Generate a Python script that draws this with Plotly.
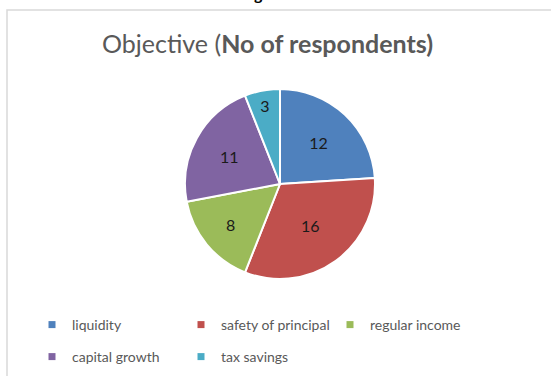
import plotly.graph_objects as go

labels = ["liquidity", "safety of principal", "regular income", "capital growth", "tax savings"]
values = [12, 16, 8, 11, 3]
colors = ["#4F81BD", "#C0504D", "#9BBB59", "#8064A2", "#4BACC6"]
row_of = [1, 1, 1, 2, 2]

W, H = 551, 376

def px(x):
    return x / W

def py(y):
    return 1 - y / H

fig = go.Figure()
fig.add_trace(go.Pie(
    labels=labels, values=values, sort=False, direction="clockwise", rotation=0,
    marker=dict(colors=colors, line=dict(color="white", width=2)),
    textinfo="value", textposition="inside", insidetextorientation="horizontal",
    textfont=dict(family="Lato", size=16, color="#1a1a1a"),
    domain=dict(x=[px(185), px(375)], y=[py(279), py(89)]),
    showlegend=False, hoverinfo="label+value",
))
for lab, col, row in zip(labels, colors, row_of):
    fig.add_trace(go.Scatter(
        x=[None], y=[None], mode="markers", name=lab,
        legend="legend" if row == 1 else "legend2",
        marker=dict(symbol="square", size=7, color=col),
    ))

leg_common = dict(
    orientation="h", xanchor="left", yanchor="middle",
    entrywidth=104, entrywidthmode="pixels",
    font=dict(family="Lato", size=14, color="#595959"),
    itemsizing="trace", bgcolor="rgba(0,0,0,0)",
)

fig.update_layout(
    width=W, height=H, margin=dict(l=0, r=0, t=0, b=0),
    paper_bgcolor="white", plot_bgcolor="white",
    xaxis=dict(visible=False), yaxis=dict(visible=False),
    legend=dict(x=px(32), y=py(325), **leg_common),
    legend2=dict(x=px(32), y=py(357), **leg_common),
    shapes=[dict(type="rect", xref="paper", yref="paper",
                 x0=px(7), x1=px(600), y0=py(420), y1=py(10),
                 line=dict(color="#D9D9D9", width=1.5), fillcolor="rgba(0,0,0,0)")],
    annotations=[
        dict(text="Objective (<b>No of respondents)</b>", x=px(267), y=py(43),
             xref="paper", yref="paper", xanchor="center", yanchor="middle",
             showarrow=False, font=dict(family="Lato", size=25, color="#595959")),
        dict(text="<b>g</b>", x=px(258), y=py(5), xref="paper", yref="paper",
             xanchor="center", yanchor="bottom", showarrow=False,
             font=dict(family="Lato", size=16, color="black")),
    ],
)
fig.write_html("out.html")
